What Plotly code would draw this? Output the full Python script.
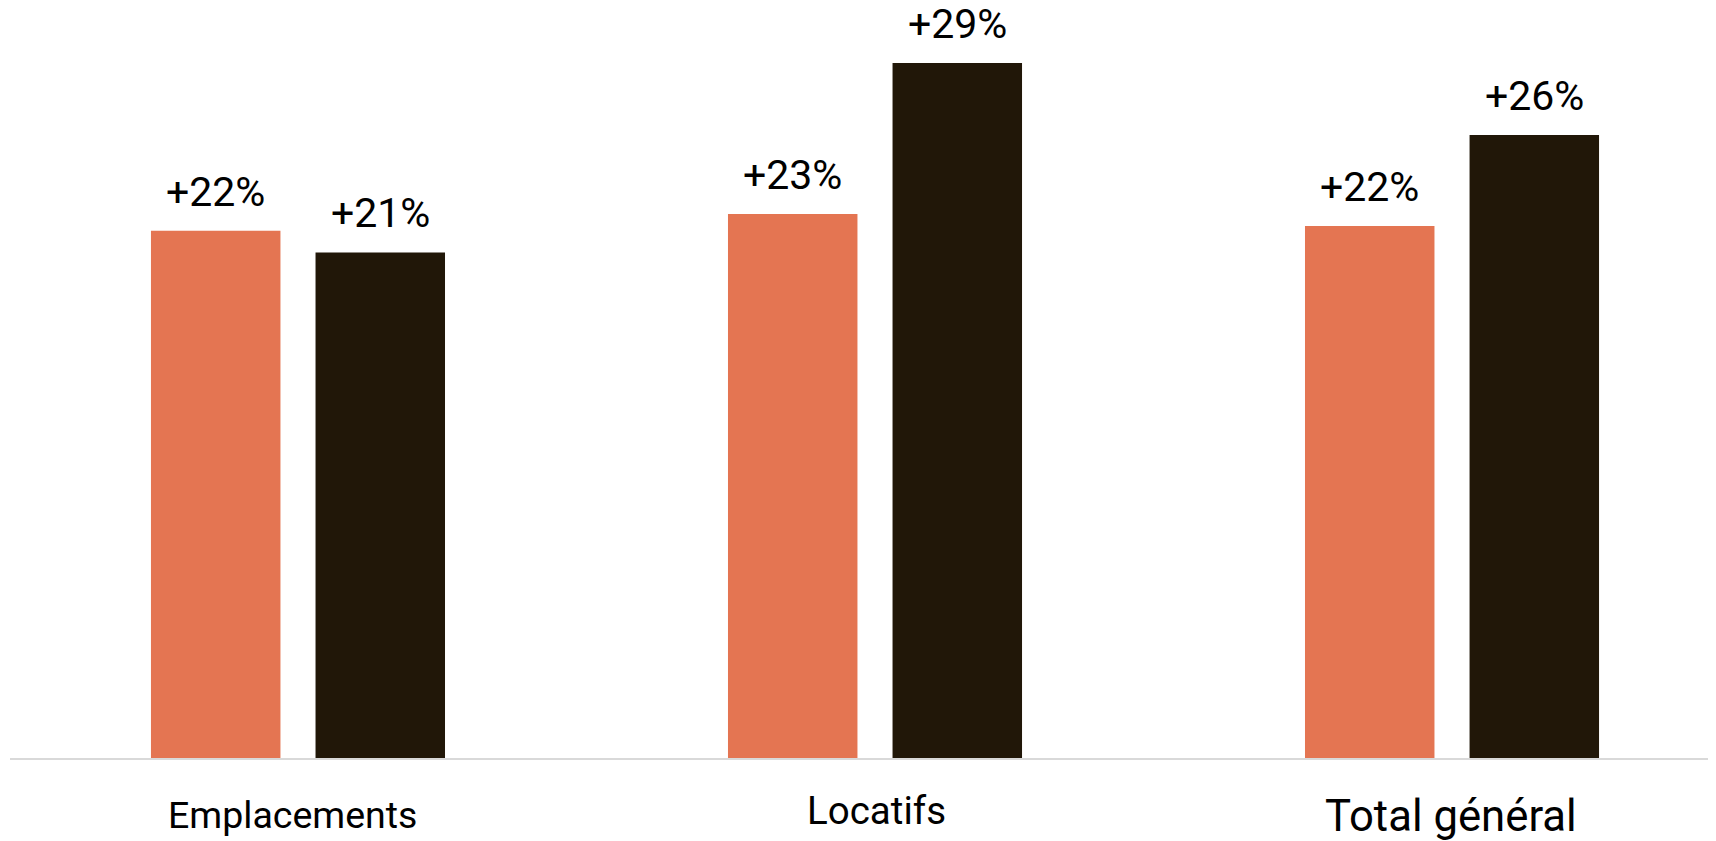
import plotly.graph_objects as go

# ---- data ----
categories = ["Emplacements", "Locatifs", "Total général"]
series_a_values = [0.220, 0.227, 0.222]   # orange series
series_b_values = [0.211, 0.290, 0.260]   # dark series
series_a_labels = ["+22%", "+23%", "+22%"]
series_b_labels = ["+21%", "+29%", "+26%"]

# ---- styling / layout ----
color_a = "#E47552"
color_b = "#211708"
font_family = "Roboto, Arial, sans-serif"

bar_width = 0.2244
half_gap = 0.0304
offset_a = -bar_width - half_gap
offset_b = half_gap
bar_label_size = 41
cat_label_sizes = [37.5, 38.5, 43.7]
cat_label_yshift = [-32.6, -27.6, -29.6]
cat_label_xshift = [-5, 1, -1]

fig = go.Figure()
fig.add_trace(go.Bar(x=categories, y=series_a_values, offset=offset_a, width=bar_width,
                     marker=dict(color=color_a, line=dict(width=0)), showlegend=False,
                     hoverinfo="skip"))
fig.add_trace(go.Bar(x=categories, y=series_b_values, offset=offset_b, width=bar_width,
                     marker=dict(color=color_b, line=dict(width=0)), showlegend=False,
                     hoverinfo="skip"))

annotations = []
for i, cat in enumerate(categories):
    for vals, labs, offs in ((series_a_values, series_a_labels, offset_a),
                             (series_b_values, series_b_labels, offset_b)):
        annotations.append(dict(
            x=i + offs + bar_width / 2, y=vals[i], xref="x", yref="y",
            text=labs[i], showarrow=False, yanchor="bottom", xanchor="center",
            yshift=14, borderpad=0,
            font=dict(family=font_family, size=bar_label_size, color="#000000")))
    annotations.append(dict(
        x=i, y=0, xref="x", yref="paper",
        text=cat, showarrow=False, yanchor="top", xanchor="center",
        yshift=cat_label_yshift[i], xshift=cat_label_xshift[i],
        font=dict(family=font_family, size=cat_label_sizes[i], color="#000000")))

fig.update_layout(
    width=1708, height=833,
    margin=dict(l=2, r=0, t=0, b=83),
    paper_bgcolor="white", plot_bgcolor="white",
    barmode="group",
    annotations=annotations,
    xaxis=dict(type="category", range=[-0.4991, 2.4575], showticklabels=False,
               showgrid=False, zeroline=False, showline=True, linecolor="#d9d9d9",
               linewidth=2, ticks=""),
    yaxis=dict(range=[0, 0.3130], visible=False, showgrid=False, zeroline=False),
)

fig.write_html("out.html")
